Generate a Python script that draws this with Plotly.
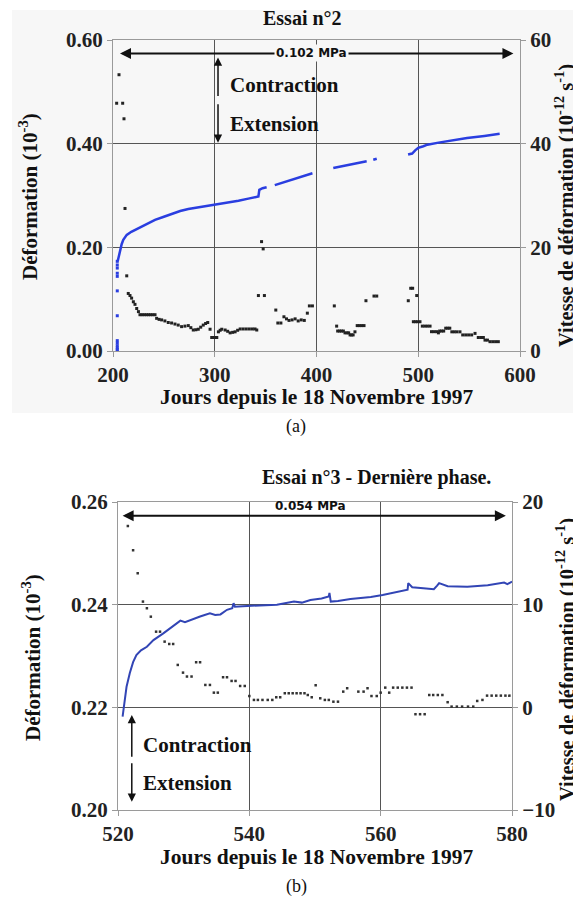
import plotly.graph_objects as go

# ---------------- Essai n°2 (a) ----------------
a_load_day = [204.2] * 13
a_load_strain = [0.000, 0.003, 0.006, 0.010, 0.015, 0.020, 0.068, 0.116, 0.144, 0.150, 0.160, 0.166, 0.173]

a_strain_day = [204.6, 205.2, 206.0, 206.9, 208.5, 210.1, 212.0, 213.5, 218.0, 225.0, 233.0, 241.3, 250.0,
                257.7, 266.0, 274.0, 287.0, 300.3, 312.0, 323.3, 333.0, 342.9, 343.4, 343.8, 347.0, 351.0,
                None,
                359.0, 370.0, 380.0, 390.0, 396.0,
                None,
                416.5, 430.0, 440.0, 449.3,
                None,
                455.8, 459.2,
                None,
                490.0, 494.0, 497.0, 500.0, 505.0, 509.0, 520.0, 535.0, 548.0, 565.0, 580.0]
a_strain = [0.173, 0.179, 0.188, 0.195, 0.206, 0.2145, 0.220, 0.224, 0.230, 0.237, 0.245, 0.253, 0.259,
            0.265, 0.270, 0.274, 0.278, 0.282, 0.286, 0.290, 0.294, 0.298, 0.305, 0.311, 0.314, 0.316,
            None,
            0.320, 0.327, 0.334, 0.340, 0.343,
            None,
            0.353, 0.358, 0.362, 0.366,
            None,
            0.369, 0.371,
            None,
            0.379, 0.381, 0.387, 0.392, 0.395, 0.398, 0.402, 0.407, 0.411, 0.415, 0.419]

a_rate_day = [203.6, 205.9, 209.5, 210.8, 211.8, 213.5, 215.0, 216.7, 218.3, 220.0, 221.6, 223.3, 225.0,
              226.5, 228.6, 230.7, 232.8, 234.9, 237.0, 239.1, 241.3, 242.9, 245.3, 247.8, 251.0, 254.3,
              257.6, 260.9, 264.1, 267.4, 270.7, 274.0, 276.5, 278.9, 281.4, 283.8, 286.2, 288.7, 291.0,
              293.1, 295.4, 297.0, 298.7, 300.3, 302.0, 303.6, 305.3, 306.9, 310.2, 312.7, 315.1, 317.6,
              320.0, 322.5, 325.0, 328.0, 331.0, 334.0, 337.0, 339.6, 341.3, 342.9, 346.0, 347.6, 348.8,
              360.0, 362.0, 365.0, 368.0, 370.5, 373.0, 376.0, 379.0, 382.0, 385.0, 388.0, 391.0, 393.0,
              396.0, 417.5, 419.8, 420.8, 422.7, 424.5, 426.4, 428.0, 430.0, 431.6, 433.0, 434.5, 436.0,
              437.8, 440.0, 442.2, 444.5, 446.7, 448.6, 456.5, 459.2, 490.2, 492.6, 494.5, 495.2, 497.3,
              498.5, 499.5, 501.7, 504.0, 506.5, 509.0, 511.6, 513.0, 515.5, 518.0, 519.8, 521.0, 523.0,
              525.0, 527.0, 529.0, 531.0, 533.0, 535.5, 538.0, 541.0, 543.7, 546.6, 549.5, 552.5, 555.8,
              559.0, 561.5, 564.0, 565.6, 568.0, 570.5, 573.2, 576.0, 578.7]
a_rate = [47.8, 53.3, 47.8, 44.8, 27.5, 14.5, 11.1, 10.7, 10.2, 9.5, 9.0, 8.2, 7.6,
          7.0, 7.0, 7.0, 7.0, 7.0, 7.0, 7.0, 7.0, 6.3, 6.1, 6.0, 5.8, 5.5,
          5.4, 5.2, 5.0, 4.7, 4.8, 4.9, 4.5, 4.05, 4.1, 4.2, 4.6, 5.0, 5.3,
          5.5, 4.2, 2.6, 2.6, 2.6, 2.6, 3.7, 4.0, 4.2, 4.05, 3.8, 3.5, 3.6,
          3.7, 4.0, 4.25, 4.25, 4.25, 4.25, 4.25, 4.25, 4.05, 10.7, 21.1, 19.7, 10.7,
          7.9, 5.4, 5.4, 6.6, 6.2, 5.9, 6.0, 6.2, 5.8, 6.0, 5.9, 7.3, 8.7,
          8.7, 8.7, 4.8, 3.85, 3.85, 3.85, 3.85, 3.5, 3.5, 3.5, 3.1, 3.1, 3.1,
          3.7, 4.9, 4.9, 4.9, 4.9, 9.7, 10.6, 10.6, 9.7, 12.1, 12.1, 5.65, 5.65,
          10.7, 5.65, 5.65, 4.8, 4.8, 4.8, 4.8, 3.73, 3.73, 3.73, 3.5, 3.85, 3.85,
          3.85, 4.4, 4.4, 4.4, 3.7, 3.7, 3.7, 3.7, 3.1, 3.1, 3.1, 3.1, 3.4,
          2.6, 2.6, 2.6, 2.1, 2.1, 1.8, 1.8, 1.8, 1.8]

a_x_ticks = [200, 300, 400, 500, 600]
a_y_ticks = [0.0, 0.2, 0.4, 0.6]
a_y2_ticks = [0, 20, 40, 60]

# ---------------- Essai n°3 (b) ----------------
b_strain_day = [520.7, 521.0, 521.3, 521.8, 522.3, 522.8, 523.5, 524.4, 525.4, 526.9, 528.0, 529.0, 529.5,
                530.2, 531.5, 532.5, 533.2, 534.0, 534.8, 535.6, 536.6, 537.4, 537.6, 537.8, 539.0, 540.2,
                542.0, 544.2, 546.8, 548.0, 549.3, 551.0, 552.1, 552.2, 552.4, 553.5, 555.4, 557.0, 558.5,
                560.3, 562.3, 564.1, 564.2, 564.8, 566.5, 567.5, 568.1, 568.6, 568.9, 570.2, 573.2, 576.3,
                578.8, 579.3, 580.0]
b_strain = [0.2182, 0.2215, 0.2240, 0.2267, 0.2288, 0.2302, 0.2311, 0.2318, 0.2331, 0.2344, 0.2354, 0.2364, 0.2369,
            0.2366, 0.2373, 0.2377, 0.2380, 0.2383, 0.2380, 0.2381, 0.2390, 0.2393, 0.2403, 0.2396, 0.2397, 0.2398,
            0.2399, 0.2400, 0.2406, 0.2404, 0.2409, 0.2412, 0.2416, 0.2423, 0.2406, 0.2407, 0.2411, 0.2413, 0.2415,
            0.2419, 0.2424, 0.2429, 0.2442, 0.2434, 0.2432, 0.2431, 0.2430, 0.2437, 0.2442, 0.2436, 0.2435, 0.2438,
            0.2443, 0.2440, 0.2445]

b_rate_day = [521.5, 522.3, 523.0, 523.8, 524.4, 525.0, 525.8, 526.4, 527.1, 527.8, 528.4, 529.1, 529.9,
              530.5, 531.2, 531.9, 532.5, 533.3, 534.0, 534.6, 535.2, 536.0, 536.6, 537.3, 537.9, 538.6,
              539.3, 540.0, 540.7, 541.3, 542.0, 542.8, 543.5, 544.1, 544.7, 545.4, 546.0, 546.6, 547.2,
              547.8, 548.4, 548.9, 549.5, 550.1, 550.8, 551.5, 552.1, 552.8, 553.5, 554.3, 554.9, 556.6,
              557.4, 558.0, 558.6, 559.4, 560.0, 560.7, 561.3, 561.9, 562.6, 563.3, 564.0, 564.7, 565.3,
              566.0, 566.7, 567.4, 568.0, 568.7, 569.4, 570.2, 570.8, 571.6, 572.4, 573.3, 574.1, 574.7,
              575.5, 576.2, 576.9, 577.6, 578.3, 579.0, 579.6]
b_rate = [17.66, 15.3, 13.06, 10.3, 9.65, 8.83, 7.37, 7.37, 6.4, 6.17, 6.17, 4.13, 3.38,
          3.0, 3.0, 4.39, 4.39, 2.18, 2.18, 1.43, 1.43, 2.93, 2.93, 2.57, 2.57, 2.08,
          2.08, 1.1, 0.72, 0.72, 0.72, 0.72, 0.72, 0.98, 0.98, 1.37, 1.37, 1.37, 1.37,
          1.37, 1.37, 1.2, 0.98, 2.15, 0.88, 0.72, 0.72, 0.55, 0.55, 1.53, 1.86, 1.53,
          1.53, 1.86, 1.1, 1.1, 1.43, 1.92, 1.43, 1.92, 1.92, 1.92, 1.92, 1.92, -0.67,
          -0.67, -0.67, 1.2, 1.2, 1.2, 1.2, 0.5, 0.07, 0.07, 0.07, 0.07, 0.07, 0.62,
          0.72, 1.14, 1.14, 1.14, 1.14, 1.14, 1.14]

b_x_ticks = [520, 540, 560, 580]
b_y_ticks = [0.20, 0.22, 0.24, 0.26]
b_y2_ticks = [-10, 0, 10, 20]

# page body has an 8px margin: the figure starts at (8, 8) in the window
OFF = 8
W, H = 581 - OFF, 900 - OFF
SERIF = "Liberation Serif"
SANS = "DejaVu Sans"
BG_A = "#f7f7f7"


def px(v):
    return (v - OFF) / W


def py(v):
    return 1 - (v - OFF) / H


tickfont = dict(family=SERIF, size=21, color="#222", weight="bold")
frame = "#9a9a9a"
grid = "#555555"

fig = go.Figure()

# (a) traces
fig.add_trace(go.Scatter(x=a_rate_day, y=a_rate, mode="markers", xaxis="x", yaxis="y2",
                         marker=dict(symbol="square", size=3, color="#222"), showlegend=False))
fig.add_trace(go.Scatter(x=a_load_day, y=a_load_strain, mode="markers", xaxis="x", yaxis="y",
                         marker=dict(symbol="square", size=3, color="#2a3ee0"), showlegend=False))
fig.add_trace(go.Scatter(x=a_strain_day, y=a_strain, mode="lines", xaxis="x", yaxis="y",
                         line=dict(color="#2a3ee0", width=2.5), connectgaps=False, showlegend=False))

# (b) traces
fig.add_trace(go.Scatter(x=b_rate_day, y=b_rate, mode="markers", xaxis="x2", yaxis="y4",
                         marker=dict(symbol="square", size=2.5, color="#333"), showlegend=False))
fig.add_trace(go.Scatter(x=b_strain_day, y=b_strain, mode="lines", xaxis="x2", yaxis="y3",
                         line=dict(color="#3245b5", width=2), showlegend=False))

axis_common = dict(showline=True, linecolor=frame, linewidth=1, mirror=True, ticks="outside",
                   ticklen=5, tickcolor=frame, tickfont=tickfont, zeroline=False, automargin=False)

fig.update_layout(
    width=W, height=H, autosize=False,
    margin=dict(l=0, r=0, t=0, b=0, pad=0, autoexpand=False),
    paper_bgcolor="white", plot_bgcolor="rgba(0,0,0,0)",
    xaxis=dict(domain=[px(113), px(520)], anchor="y", range=[200, 600], tickvals=a_x_ticks,
               showgrid=True, gridcolor=grid, gridwidth=1, **axis_common),
    yaxis=dict(domain=[py(351), py(40)], anchor="x", range=[0, 0.6], tickvals=a_y_ticks,
               tickformat=".2f", showgrid=True, gridcolor=grid, gridwidth=1, **axis_common),
    yaxis2=dict(overlaying="y", side="right", anchor="x", range=[0, 60], tickvals=a_y2_ticks,
                showgrid=False, showline=False, ticks="outside", ticklen=5, tickcolor=frame,
                tickfont=tickfont, zeroline=False, automargin=False),
    xaxis2=dict(domain=[px(118), px(512)], anchor="y3", range=[520, 580], tickvals=b_x_ticks,
                showgrid=True, gridcolor=grid, gridwidth=1, **axis_common),
    yaxis3=dict(domain=[py(810), py(502)], anchor="x2", range=[0.20, 0.26], tickvals=b_y_ticks,
                tickformat=".2f", showgrid=True, gridcolor=grid, gridwidth=1, **axis_common),
    yaxis4=dict(overlaying="y3", side="right", anchor="x2", range=[-10, 20], tickvals=b_y2_ticks,
                showgrid=False, showline=False, ticks="outside", ticklen=5, tickcolor=frame,
                tickfont=tickfont, zeroline=False, automargin=False),
)

# background of panel (a)
fig.add_shape(type="rect", xref="paper", yref="paper", x0=px(12), x1=1, y0=py(413), y1=py(10),
              fillcolor=BG_A, line=dict(width=0), layer="below")

ann = []


def text(x, y, s, size=21, xref="paper", yref="paper", angle=0, xanchor="center", yanchor="middle",
         family=SERIF, bg=None):
    d = dict(x=x, y=y, xref=xref, yref=yref, text=s, showarrow=False, textangle=angle,
             xanchor=xanchor, yanchor=yanchor, font=dict(family=family, size=size, color="#111"))
    if bg:
        d["bgcolor"] = bg
    ann.append(d)


def arrow(x, y, ax, ay, xref, yref, width=2, side="end"):
    ann.append(dict(x=x, y=y, ax=ax, ay=ay, xref=xref, yref=yref, axref=xref, ayref=yref,
                    text="", showarrow=True, arrowhead=2, startarrowhead=2, arrowsize=1.1,
                    startarrowsize=1.1, arrowwidth=width, arrowcolor="#111", arrowside=side))


RIGHT_TITLE = "<b>Vitesse de déformation (10<sup>-12</sup> s<sup>-1</sup>)</b>"
LEFT_TITLE = "<b>Déformation (10<sup>-3</sup>)</b>"
X_TITLE = "<b>Jours depuis le 18 Novembre 1997</b>"

# ---- (a) annotations ----
text(px(302), py(18), "<b>Essai n°2</b>", size=20)
arrow(206.9, 0.574, 595, 0.574, "x", "y", side="end+start")
text(395, 0.574, "<b>0.102 MPa</b>", size=12, xref="x", yref="y", family=SANS, bg=BG_A)
arrow(303.2, 0.566, 303.2, 0.489, "x", "y", width=1.5)
arrow(303.2, 0.402, 303.2, 0.479, "x", "y", width=1.5)
text(313, 0.5135, "<b>Contraction</b>", xref="x", yref="y", xanchor="left")
text(313, 0.4387, "<b>Extension</b>", xref="x", yref="y", xanchor="left")
text(px(28), py(197), LEFT_TITLE, size=21, angle=-90)
text(px(565), py(206), RIGHT_TITLE, size=20.5, angle=-90)
text(px(316), py(397), X_TITLE, size=21.5)
text(px(296), py(426), "(a)", size=18)

# ---- (b) annotations ----
text(px(376), py(478), "<b>Essai n°3 - Dernière phase.</b>", size=20)
arrow(520.7, 0.2573, 579.3, 0.2573, "x2", "y3", side="end+start")
text(549.3, 0.2574, "<b>0.054 MPa</b>", size=12, xref="x2", yref="y3", family=SANS, yanchor="bottom")
arrow(522.1, 0.2185, 522.1, 0.2101, "x2", "y3", width=1.5)
arrow(522.1, 0.2016, 522.1, 0.2094, "x2", "y3", width=1.5)
text(523.5, 0.2127, "<b>Contraction</b>", xref="x2", yref="y3", xanchor="left")
text(523.5, 0.2052, "<b>Extension</b>", xref="x2", yref="y3", xanchor="left")
text(px(31), py(658), LEFT_TITLE, size=21, angle=-90)
text(px(565), py(660), RIGHT_TITLE, size=20.5, angle=-90)
text(px(316), py(857), X_TITLE, size=21.5)
text(px(296), py(886), "(b)", size=18)

fig.update_layout(annotations=ann)

fig.write_html("out.html")
